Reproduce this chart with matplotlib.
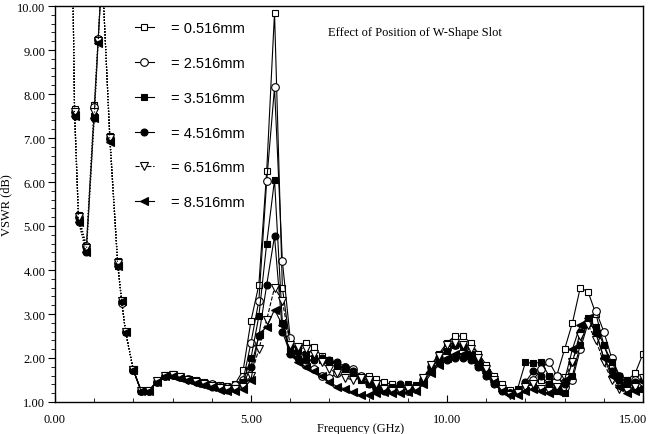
import numpy as np
import matplotlib
matplotlib.use("Agg")
import matplotlib.pyplot as plt
from matplotlib.ticker import MultipleLocator, FormatStrFormatter

# frequency points (GHz)
freq = [0.45, 0.5, 0.6, 0.8, 1.0, 1.1, 1.2, 1.4, 1.6, 1.7, 1.8, 2.0,
        2.2, 2.4, 2.6, 2.8, 3.0, 3.2, 3.4, 3.6, 3.8, 4.0, 4.2, 4.4, 4.6, 4.8,
        5.0, 5.2, 5.4, 5.6, 5.8, 6.0, 6.2, 6.4, 6.6, 6.8, 7.0, 7.2, 7.4, 7.6,
        7.8, 8.0, 8.2, 8.4, 8.6, 8.8, 9.0, 9.2, 9.4, 9.6, 9.8, 10.0, 10.2,
        10.4, 10.6, 10.8, 11.0, 11.2, 11.4, 11.6, 11.8, 12.0, 12.2, 12.4,
        12.6, 12.8, 13.0, 13.2, 13.4, 13.6, 13.8, 14.0, 14.2, 14.4, 14.6,
        14.8, 15.0]

labels = ["= 0.516mm", "= 2.516mm", "= 3.516mm", "= 4.516mm", "= 6.516mm", "= 8.516mm"]
xticks = [0, 5, 10, 15]
xtick_labels = ["0.00", "5.00", "10.00", "15.00"]

vswr_0516 = [10.8, 7.67, 5.25, 4.55, 7.75, 9.25, 10.8, 7.05, 4.2, 3.3, 2.6, 1.72,
             1.25, 1.27, 1.47, 1.62, 1.63, 1.58, 1.53, 1.5, 1.46, 1.42, 1.38, 1.36, 1.42, 1.72,
             2.85, 3.66, 6.24, 9.85, 3.6, 2.3, 2.2, 2.35, 2.25, 2.05, 1.95, 1.85, 1.75, 1.68,
             1.6, 1.58, 1.52, 1.45, 1.4, 1.35, 1.32, 1.35, 1.5, 1.85, 2.1, 2.35, 2.5,
             2.5, 2.35, 2.1, 1.85, 1.6, 1.4, 1.28, 1.25, 1.3, 1.45, 1.5,
             1.4, 1.6, 2.2, 2.8, 3.6, 3.5, 3.0, 2.3, 1.8, 1.5, 1.5,
             1.65, 2.1]
vswr_2516 = [10.8, 7.6, 5.2, 4.55, 7.7, 9.25, 10.8, 7.0, 4.15, 3.25, 2.6, 1.72,
             1.25, 1.26, 1.46, 1.6, 1.62, 1.57, 1.52, 1.48, 1.44, 1.4, 1.35, 1.33, 1.38, 1.5,
             2.35, 3.3, 6.02, 8.15, 4.2, 2.45, 2.1, 1.85, 1.75, 1.6, 1.55, 1.65, 1.8, 1.75,
             1.6, 1.45, 1.35, 1.3, 1.3, 1.28, 1.25, 1.3, 1.5, 1.8, 2.0, 2.2, 2.3,
             2.3, 2.15, 1.95, 1.7, 1.5, 1.3, 1.2, 1.25, 1.3, 1.5, 1.75,
             1.92, 1.6, 1.35, 1.5, 2.2, 2.8, 3.07, 2.6, 2.0, 1.6, 1.4,
             1.5, 1.45]
vswr_3516 = [10.8, 7.55, 5.15, 4.45, 7.5, 9.2, 10.8, 7.0, 4.1, 3.3, 2.6, 1.72,
             1.25, 1.25, 1.47, 1.6, 1.62, 1.57, 1.52, 1.47, 1.42, 1.37, 1.33, 1.3, 1.32, 1.45,
             2.0, 2.95, 4.6, 6.05, 2.8, 2.2, 2.15, 2.1, 2.0, 1.95, 1.9, 1.85, 1.75, 1.6,
             1.5, 1.42, 1.38, 1.35, 1.33, 1.35, 1.4, 1.38, 1.5, 1.75, 2.0, 2.15, 2.3,
             2.25, 2.1, 1.9, 1.7, 1.45, 1.3, 1.2, 1.3, 1.9, 1.88, 1.9,
             1.6, 1.25, 1.2, 1.6, 2.3, 2.9, 2.7, 2.3, 1.9, 1.6, 1.5,
             1.35, 1.3]
vswr_4516 = [10.8, 7.5, 5.1, 4.4, 7.45, 9.2, 10.8, 6.95, 4.1, 3.3, 2.6, 1.72,
             1.24, 1.25, 1.46, 1.6, 1.61, 1.56, 1.5, 1.45, 1.4, 1.35, 1.31, 1.28, 1.3, 1.4,
             1.8, 2.5, 3.66, 4.77, 2.6, 2.1, 2.0, 1.95, 1.95, 2.0, 1.95, 1.9, 1.8, 1.7,
             1.55, 1.4, 1.3, 1.25, 1.3, 1.4, 1.35, 1.3, 1.45, 1.7, 1.9, 1.95, 2.0,
             2.0, 1.95, 1.8, 1.6, 1.4, 1.25, 1.2, 1.22, 1.45, 1.7, 1.6,
             1.4, 1.3, 1.4, 1.9, 2.6, 2.85, 2.6, 2.0, 1.7, 1.5, 1.4,
             1.45, 1.5]
vswr_6516 = [10.8, 7.6, 5.2, 4.5, 7.6, 9.2, 10.8, 7.0, 4.15, 3.3, 2.6, 1.72,
             1.25, 1.26, 1.47, 1.6, 1.62, 1.56, 1.51, 1.46, 1.41, 1.36, 1.32, 1.29, 1.3, 1.35,
             1.6, 2.2, 2.87, 3.6, 3.3, 2.3, 2.25, 2.2, 2.1, 1.9, 1.75, 1.65, 1.55, 1.5,
             1.55, 1.5, 1.4, 1.3, 1.25, 1.25, 1.3, 1.3, 1.55, 1.85, 2.05, 2.3, 2.35,
             2.3, 2.2, 2.0, 1.75, 1.5, 1.3, 1.15, 1.2, 1.35, 1.4, 1.3,
             1.25, 1.35, 1.55, 1.9, 2.5, 2.75, 2.4, 1.9, 1.5, 1.3, 1.25,
             1.35, 1.55]
vswr_8516 = [10.8, 7.5, 5.1, 4.4, 7.45, 9.15, 10.8, 6.9, 4.1, 3.3, 2.6, 1.72,
             1.24, 1.24, 1.45, 1.58, 1.6, 1.55, 1.49, 1.44, 1.38, 1.33, 1.28, 1.25, 1.26, 1.3,
             1.5, 2.55, 2.7, 3.1, 2.75, 2.1, 1.9, 1.8, 1.7, 1.6, 1.45, 1.35, 1.3, 1.22,
             1.15, 1.15, 1.2, 1.22, 1.2, 1.2, 1.22, 1.25, 1.4, 1.65, 1.85, 2.0, 2.1,
             2.1, 2.0, 1.85, 1.65, 1.45, 1.25, 1.15, 1.15, 1.25, 1.3, 1.25,
             1.2, 1.25, 1.5, 2.2, 2.75, 2.9, 2.55, 2.0, 1.6, 1.35, 1.2,
             1.25, 1.3]

series = [vswr_0516, vswr_2516, vswr_3516, vswr_4516, vswr_6516, vswr_8516]
markers = ["s", "o", "s", "o", "v", "<"]
faces = ["white", "white", "black", "black", "white", "black"]
msizes = [4.5, 5.5, 4.0, 5.0, 5.5, 5.5]
styles = ["-", "-", "-", "-", "--", "-"]

fig = plt.figure(figsize=(6.49, 4.35), dpi=100)
ax = fig.add_axes([55/649, 1 - 403/435, 588/649, 396/435])

f = np.array(freq)
low = f <= 2.0
high = f >= 2.0
for vals, m, fc, ms, ls, lab in zip(series, markers, faces, msizes, styles, labels):
    v = np.array(vals)
    ax.plot(f[low], v[low], ls=":", color="black", lw=0.8, marker=m,
            mfc=fc, mec="black", ms=ms, mew=0.8)
    ax.plot(f[high], v[high], ls=ls, color="black", lw=0.8,
            marker=m, mfc=fc, mec="black", ms=ms, mew=0.8, label=lab)

ax.set_xlim(0, 15)
ax.set_ylim(1, 10)
# last x label is written by hand so it can be right-aligned at the edge
ax.set_xticks(xticks, xtick_labels[:-1] + [""])
ax.text(1.0 + 4/588, -0.028, xtick_labels[-1], transform=ax.transAxes,
        ha="right", va="top", family="Liberation Serif", fontsize=9)
ax.xaxis.set_minor_locator(MultipleLocator(1))
ax.yaxis.set_major_locator(MultipleLocator(1))
ax.yaxis.set_minor_locator(MultipleLocator(0.2))
ax.yaxis.set_major_formatter(FormatStrFormatter("%.2f"))
ax.tick_params(axis="x", which="both", direction="in", pad=8, labelsize=9)
ax.tick_params(axis="x", which="major", length=5)
ax.tick_params(axis="x", which="minor", length=3)
ax.tick_params(axis="y", which="both", direction="out", pad=2, labelsize=9)
ax.tick_params(axis="y", which="major", length=5)
ax.tick_params(axis="y", which="minor", length=3)
for lbl in ax.get_xticklabels() + ax.get_yticklabels():
    lbl.set_family("Liberation Serif")
for sp in ax.spines.values():
    sp.set_linewidth(1.0)

ax.set_xlabel("Frequency (GHz)", family="Liberation Serif", fontsize=9)
ax.xaxis.set_label_coords(0.519, -0.05)
ax.set_ylabel("VSWR (dB)", family="Liberation Serif", fontsize=9)
ax.yaxis.set_label_coords(-0.072, 0.5)

ax.text(0.465, 0.935, "Effect of Position of W-Shape Slot", transform=ax.transAxes,
        family="Liberation Serif", fontsize=9, va="center", ha="left")

ax.legend(loc="upper left", bbox_to_anchor=(0.136, 0.962), frameon=False,
          prop={"family": "Liberation Sans", "size": 10.5}, handlelength=1.3,
          handletextpad=1.2, labelspacing=1.43, borderpad=0, borderaxespad=0)

fig.savefig("out.png", dpi=100)
